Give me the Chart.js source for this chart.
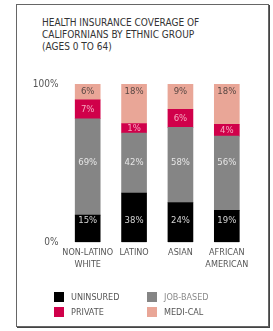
<!DOCTYPE html>
<html>
<head>
<meta charset="utf-8">
<script src="https://cdn.jsdelivr.net/npm/chart.js@4.4.1/dist/chart.umd.min.js"></script>
<style>
  html, body { margin: 0; padding: 0; background: #fff; }
  body { width: 273px; height: 331px; position: relative; overflow: hidden;
         font-family: "Liberation Sans Narrow", "DejaVu Sans Condensed", "Liberation Sans", sans-serif; }
  #frame { position: absolute; left: 16px; top: 4px; width: 251px; height: 321px;
           border: 1px solid #666; box-shadow: 1px 1px 0 #444; }
  #title { position: absolute; left: 42px; top: 17px; font-size: 10px; line-height: 12px; color: #333; }
  #wrap { position: absolute; left: 17px; top: 70px; width: 252px; height: 257px; }
</style>
</head>
<body>
<div id="frame"></div>
<div id="title">HEALTH INSURANCE COVERAGE OF<br>CALIFORNIANS BY ETHNIC GROUP<br>(AGES 0 TO 64)</div>
<div id="wrap"><canvas id="chart"></canvas></div>
<script>
const FONT = '"Liberation Sans Narrow", "DejaVu Sans Condensed", "Liberation Sans", sans-serif';

const groups = [["NON-LATINO", "WHITE"], "LATINO", "ASIAN", ["AFRICAN", "AMERICAN"]];
const yTicks = [0, 100];

// segment heights as drawn in the original (its bars are not to scale)
const uninsured = [17, 31, 25, 20];
const jobBased = [61, 38, 47.5, 47];
const privateIns = [12, 6, 11.5, 7.5];
const mediCal = [10, 25, 16, 25.5];

// percentages printed on the segments
const uninsuredText = [15, 38, 24, 19];
const jobBasedText = [69, 42, 58, 56];
const privateText = [7, 1, 6, 4];
const mediCalText = [6, 18, 9, 18];

const series = [
  { label: "UNINSURED", data: uninsured, text: uninsuredText, color: "#000000", ink: "#d4d4d4", labelAt: 13.5 },
  { label: "JOB-BASED", data: jobBased, text: jobBasedText, color: "#858585", ink: "#e6e6e6", labelAt: 50 },
  { label: "PRIVATE", data: privateIns, text: privateText, color: "#d0004a", ink: "#f6a9c0", labelAt: null },
  { label: "MEDI-CAL", data: mediCal, text: mediCalText, color: "#e9a697", ink: "#5a4844", labelAt: 95 }
];

// value labels inside the segments, plus the faint rule under each bar
const segmentLabels = {
  id: "segmentLabels",
  afterDatasetsDraw(chart) {
    const ctx = chart.ctx;
    const y = chart.scales.y;
    ctx.save();
    ctx.fillStyle = "#dcdcdc";
    chart.getDatasetMeta(0).data.forEach(bar => {
      ctx.fillRect(bar.x - bar.width / 2, bar.base, bar.width, 1);
    });
    ctx.font = "9.5px " + FONT;
    ctx.textAlign = "center";
    ctx.textBaseline = "middle";
    chart.data.datasets.forEach((ds, i) => {
      chart.getDatasetMeta(i).data.forEach((bar, j) => {
        const py = ds.labelAt != null ? y.getPixelForValue(ds.labelAt) : (bar.y + bar.base) / 2;
        ctx.fillStyle = ds.ink;
        ctx.fillText(ds.text[j] + "%", bar.x, py);
      });
    });
    ctx.restore();
  }
};

// two-column legend below the axis
const gridLegend = {
  id: "gridLegend",
  afterDraw(chart) {
    const ctx = chart.ctx;
    const cols = [37, 130];
    const rows = [222, 237];
    ctx.save();
    ctx.font = "9px " + FONT;
    ctx.textBaseline = "middle";
    ctx.textAlign = "left";
    chart.data.datasets.forEach((ds, i) => {
      const x = cols[i % 2];
      const top = rows[Math.floor(i / 2)];
      ctx.fillStyle = ds.backgroundColor;
      ctx.fillRect(x, top, 10, 10);
      ctx.fillStyle = i === 1 ? "#8a8a8a" : "#555";
      ctx.fillText(ds.label, x + 17, top + 5.5);
    });
    ctx.restore();
  }
};

new Chart(document.getElementById("chart"), {
  type: "bar",
  plugins: [segmentLabels, gridLegend],
  data: {
    labels: groups,
    datasets: series.map(s => ({
      label: s.label,
      data: s.data,
      text: s.text,
      ink: s.ink,
      labelAt: s.labelAt,
      backgroundColor: s.color,
      borderWidth: 0,
      barThickness: 25
    }))
  },
  options: {
    responsive: true,
    maintainAspectRatio: false,
    animation: false,
    layout: { padding: { left: 0, right: 19, top: 14, bottom: 55 } },
    plugins: {
      legend: { display: false },
      tooltip: { enabled: false }
    },
    scales: {
      x: {
        stacked: true,
        grid: { display: false, drawTicks: false },
        border: { display: false },
        ticks: { color: "#555", font: { family: FONT, size: 9, lineHeight: 1.33 }, padding: 5, maxRotation: 0, autoSkip: false },
        afterFit(axis) { axis.height = 30; }
      },
      y: {
        stacked: true,
        min: 0,
        max: 100,
        grid: { display: false, drawTicks: false },
        border: { display: false },
        afterBuildTicks(axis) { axis.ticks = yTicks.map(v => ({ value: v })); },
        ticks: { color: "#555", font: { family: FONT, size: 10 }, padding: 6, callback: v => v + "%" },
        afterFit(axis) { axis.width = 47.5; }
      }
    }
  }
});
</script>
</body>
</html>
